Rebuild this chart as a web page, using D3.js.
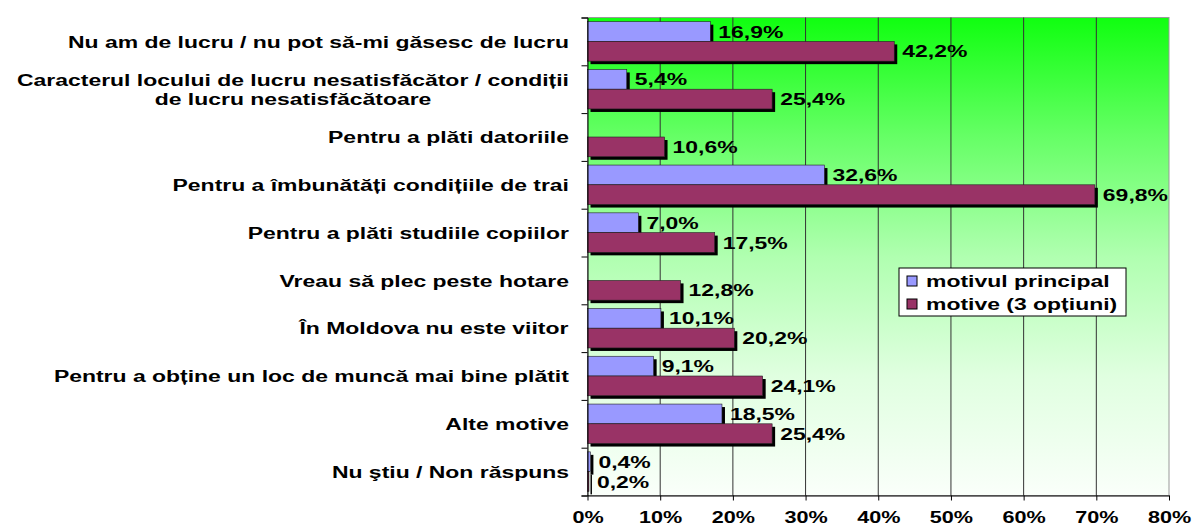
<!DOCTYPE html>
<html>
<head>
<meta charset="utf-8">
<script src="https://cdn.jsdelivr.net/npm/d3@7"></script>
<style>
  body { margin: 0; background: #fff; }
  text { font-family: "Liberation Sans", Arial, sans-serif; font-weight: bold; }
</style>
</head>
<body>
<div id="chart"></div>
<script>
// categories, each one can hold several lines
const categories = [
  ["Nu am de lucru / nu pot să-mi găsesc de lucru"],
  ["Caracterul locului de lucru nesatisfăcător / condiții", "de lucru nesatisfăcătoare"],
  ["Pentru a plăti datoriile"],
  ["Pentru a îmbunătăți condițiile de trai"],
  ["Pentru a plăti studiile copiilor"],
  ["Vreau să plec peste hotare"],
  ["În Moldova nu este viitor"],
  ["Pentru a obține un loc de muncă mai bine plătit"],
  ["Alte motive"],
  ["Nu ştiu / Non răspuns"]
];
const seriesNames = ["motivul principal", "motive (3 opțiuni)"];
const mainReason = [16.9, 5.4, null, 32.6, 7.0, null, 10.1, 9.1, 18.5, 0.4];
const threeOptions = [42.2, 25.4, 10.6, 69.8, 17.5, 12.8, 20.2, 24.1, 25.4, 0.2];
const xTicks = [0, 10, 20, 30, 40, 50, 60, 70, 80];
const colors = ["#9999ff", "#993366"];

const W = 1193, H = 529;
const margin = { top: 17.5, right: 24, bottom: 33.5, left: 587.5 };
const width = W - margin.left - margin.right;
const height = H - margin.top - margin.bottom;
const stretch = 1.35; // the text of the original is wider than it is tall

const svg = d3.select("#chart")
  .append("svg")
  .attr("width", W)
  .attr("height", H);

const defs = svg.append("defs");
const grad = defs.append("linearGradient")
  .attr("id", "bg")
  .attr("x1", 0).attr("y1", 0).attr("x2", 0).attr("y2", 1);
[[0, "#10ff10"], [0.25, "#66ff66"], [0.5, "#b0ffb0"], [0.75, "#e0ffe0"], [1, "#fafffa"]]
  .forEach(s => grad.append("stop").attr("offset", s[0]).attr("stop-color", s[1]));

const g = svg.append("g")
  .attr("transform", "translate(" + margin.left + "," + margin.top + ")");

const x = d3.scaleLinear().domain([0, 80]).range([0, width]);
const y = d3.scaleBand().domain(d3.range(categories.length)).range([0, height]);
const ySub = d3.scaleBand().domain([0, 1]).range([0, y.bandwidth()]).paddingOuter(0.21);

// plot background
g.append("rect")
  .attr("width", width)
  .attr("height", height)
  .attr("fill", "url(#bg)")
  .attr("stroke", "#999")
  .attr("stroke-width", 1);

// gridlines
g.selectAll(".grid")
  .data(xTicks.slice(1, -1))
  .enter()
  .append("line")
  .attr("x1", d => x(d)).attr("x2", d => x(d))
  .attr("y1", 0).attr("y2", height)
  .attr("stroke", "#333")
  .attr("stroke-width", 1);

// bars, blue first so the maroon ones cover its shadow
const rows = [];
categories.forEach((c, i) => {
  rows.push({ cat: i, s: 0, v: mainReason[i] });
  rows.push({ cat: i, s: 1, v: threeOptions[i] });
});
const shown = rows.filter(d => d.v !== null);

const bar = g.selectAll(".bar")
  .data(shown)
  .enter()
  .append("g")
  .attr("class", "bar");

bar.append("rect")
  .attr("x", 3)
  .attr("y", d => y(d.cat) + ySub(d.s) + 3)
  .attr("width", d => x(d.v))
  .attr("height", ySub.bandwidth())
  .attr("fill", "#000");

bar.append("rect")
  .attr("x", 0)
  .attr("y", d => y(d.cat) + ySub(d.s))
  .attr("width", d => x(d.v))
  .attr("height", ySub.bandwidth())
  .attr("fill", d => colors[d.s])
  .attr("stroke", "#222")
  .attr("stroke-width", 0.6);

const fmt = v => d3.format(".1f")(v).replace(".", ",") + "%";

g.selectAll(".val")
  .data(shown)
  .enter()
  .append("text")
  .attr("transform", d => "translate(" + (x(d.v) + 8) + "," +
    (y(d.cat) + ySub(d.s) + ySub.bandwidth() / 2) + ") scale(" + stretch + ",1)")
  .attr("dy", "0.36em")
  .attr("font-size", "17px")
  .text(d => fmt(d.v));

// left axis with ticks between categories
const yEdge = d3.scaleLinear().domain([0, categories.length]).range([0, height]);
g.append("g")
  .call(d3.axisLeft(yEdge).ticks(categories.length).tickSize(6).tickFormat(""))
  .call(a => a.select(".domain").attr("stroke", "#000"));

// bottom axis
g.append("g")
  .attr("transform", "translate(0," + height + ")")
  .call(d3.axisBottom(x).tickValues(xTicks).tickSize(5).tickSizeOuter(0).tickPadding(11)
    .tickFormat(d => d + "%"))
  .call(a => a.selectAll("text")
    .attr("font-size", "16px")
    .attr("font-family", null)
    .attr("fill", "#000")
    .attr("transform", "scale(" + stretch + ",1)"))
  .call(a => a.select(".domain").attr("stroke", "#000"));

// category labels, lines centred, block right aligned
const catLabel = svg.append("g");
categories.forEach((lines, i) => {
  const cy = margin.top + y(i) + y.bandwidth() / 2;
  const t = catLabel.append("text")
    .attr("transform", "translate(569," + cy + ") scale(" + stretch + ",1)")
    .attr("font-size", "17px")
    .attr("text-anchor", "middle");
  const n = lines.length;
  lines.forEach((ln, k) => {
    t.append("tspan")
      .attr("x", 0)
      .attr("y", (k - (n - 1) / 2) * 19)
      .attr("dy", "0.36em")
      .text(ln);
  });
  const wide = t.node().getBBox().width;
  t.selectAll("tspan").attr("x", -wide / 2);
});

// legend
const legend = svg.append("g")
  .attr("class", "legend")
  .attr("transform", "translate(899,268)");

legend.append("rect")
  .attr("width", 227)
  .attr("height", 48)
  .attr("fill", "#fff")
  .attr("stroke", "#000");

seriesNames.forEach((name, i) => {
  legend.append("rect")
    .attr("x", 8)
    .attr("y", 8 + i * 23)
    .attr("width", 10)
    .attr("height", 10)
    .attr("fill", colors[i])
    .attr("stroke", "#000");
  legend.append("text")
    .attr("transform", "translate(27," + (13 + i * 23) + ") scale(" + stretch + ",1)")
    .attr("dy", "0.36em")
    .attr("font-size", "17px")
    .text(name);
});
</script>
</body>
</html>
